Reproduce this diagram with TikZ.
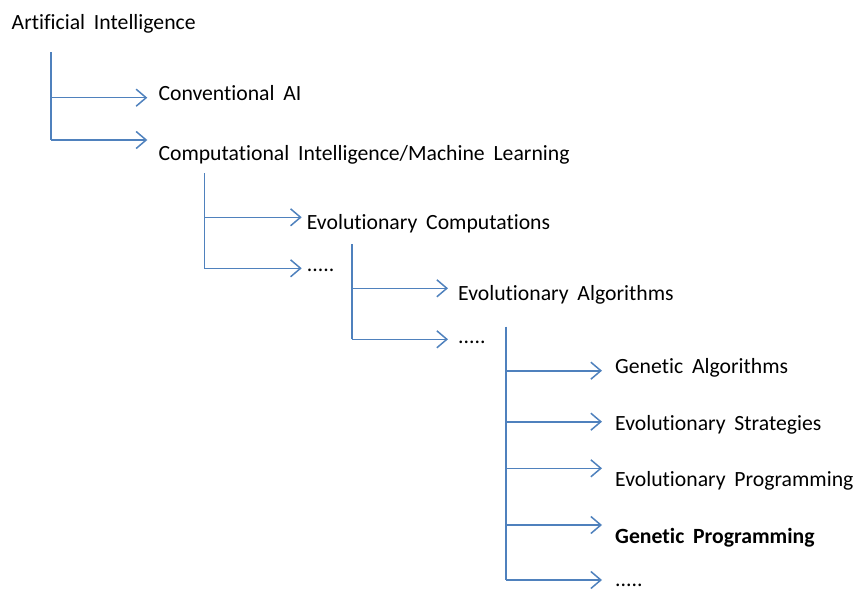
\documentclass[tikz,border=0pt]{standalone}
\usepackage{fontspec}
\setmainfont{Carlito}[Ligatures={NoCommon},WordSpace=1.8]
\usetikzlibrary{arrows.meta}
\definecolor{bleuligne}{RGB}{79,129,189}
\tikzset{
  texte/.style={anchor=base west,inner sep=0pt,font=\fontsize{21.7}{26}\selectfont},
  lien/.style={draw=bleuligne,line width=1.6pt},
  fleche/.style={lien,-{Straight Barb[length=10pt,width=17pt,line width=1.5pt]}}
}
\begin{document}
\begin{tikzpicture}[x=1pt,y=-1pt]
	\useasboundingbox (0,0) rectangle (861,591);
	% description et nommage des noeuds
	\node (AI) [texte] at (11.5,30) {Artificial Intelligence};
	\node (CONV) [texte] at (158.3,101) {Conventional AI};
	\node (CIML) [texte] at (158.3,160) {Computational Intelligence/Machine Learning};
	\node (EC) [texte] at (306.7,229) {Evolutionary Computations};
	\node (PTS1) [texte] at (306.7,271) {.....};
	\node (EA) [texte] at (458,300) {Evolutionary Algorithms};
	\node (PTS2) [texte] at (458,343) {.....};
	\node (GA) [texte] at (615,373.3) {Genetic Algorithms};
	\node (ES) [texte] at (615,430) {Evolutionary Strategies};
	\node (EP) [texte] at (615,486.7) {Evolutionary Programming};
	\node (GP) [texte,font=\fontsize{21.7}{26}\selectfont\bfseries] at (615,543) {Genetic Programming};
	\node (PTS3) [texte] at (615,586.7) {.....};
	% points des branches
	\coordinate (V1h) at (50.7,52.3);
	\coordinate (V1a) at (50.7,97.7);
	\coordinate (V1b) at (50.7,140);
	\coordinate (V2h) at (204.3,173);
	\coordinate (V2a) at (204.3,217.3);
	\coordinate (V2b) at (204.3,268.3);
	\coordinate (V3h) at (351.7,244);
	\coordinate (V3a) at (351.7,288.3);
	\coordinate (V3b) at (351.7,339.3);
	\coordinate (V4h) at (505.7,326.7);
	\coordinate (V4a) at (505.7,370.7);
	\coordinate (V4b) at (505.7,421.7);
	\coordinate (V4c) at (505.7,468.3);
	\coordinate (V4d) at (505.7,525);
	\coordinate (V4e) at (505.7,580);
	% description des traits verticaux
	\draw[lien] (V1h) -- (V1b);
	\draw[lien] (V2h) -- (V2b);
	\draw[lien] (V3h) -- (V3b);
	\draw[lien] (V4h) -- (V4e);
	% fleches vers les noeuds
	\draw[fleche] (V1a) -- ([xshift=-11pt]CONV.west |- V1a);
	\draw[fleche] (V1b) -- ([xshift=-11pt]CIML.west |- V1b);
	\draw[fleche] (V2a) -- ([xshift=-5pt]EC.west |- V2a);
	\draw[fleche] (V2b) -- ([xshift=-5pt]PTS1.west |- V2b);
	\draw[fleche] (V3a) -- ([xshift=-10pt]EA.west |- V3a);
	\draw[fleche] (V3b) -- ([xshift=-10pt]PTS2.west |- V3b);
	\draw[fleche] (V4a) -- ([xshift=-13pt]GA.west |- V4a);
	\draw[fleche] (V4b) -- ([xshift=-13pt]ES.west |- V4b);
	\draw[fleche] (V4c) -- ([xshift=-13pt]EP.west |- V4c);
	\draw[fleche] (V4d) -- ([xshift=-13pt]GP.west |- V4d);
	\draw[fleche] (V4e) -- ([xshift=-13pt]PTS3.west |- V4e);
\end{tikzpicture}
\end{document}
